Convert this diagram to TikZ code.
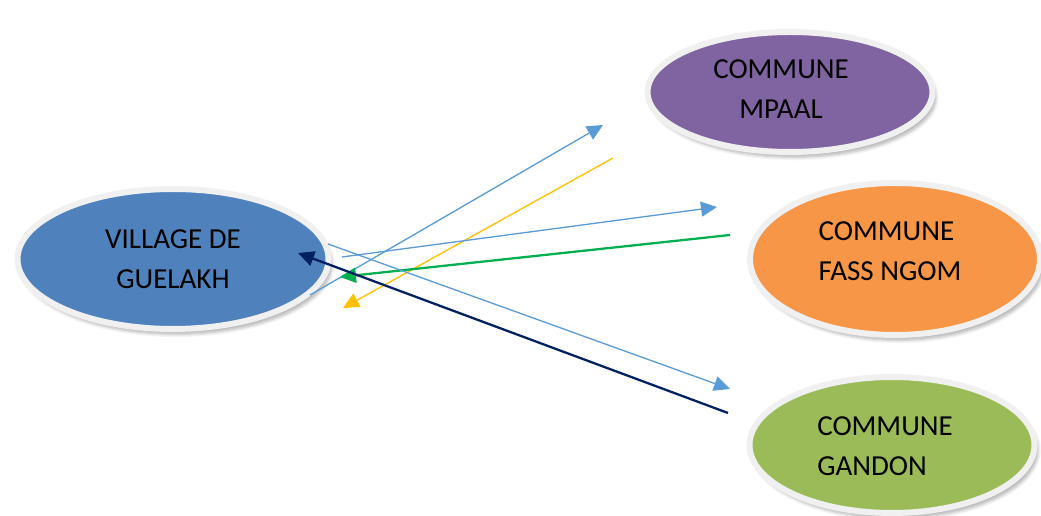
\documentclass[tikz,border=0pt]{standalone}
\usepackage{fontspec}
\setmainfont{Carlito}
\usetikzlibrary{shapes.geometric,arrows.meta,shadows.blur}
\definecolor{villagefill}{HTML}{4F81BD}
\definecolor{mpaalfill}{HTML}{8064A2}
\definecolor{fassfill}{HTML}{F79646}
\definecolor{gandonfill}{HTML}{9BBB59}
\definecolor{flowblue}{HTML}{5B9BD5}
\definecolor{flowyellow}{HTML}{FFC000}
\definecolor{flowgreen}{HTML}{00B050}
\definecolor{flownavy}{HTML}{002060}
\begin{document}
\begin{tikzpicture}[x=0.02cm,y=-0.02cm,
    place/.style={ellipse,draw=black!6,line width=3.4pt,inner sep=0pt,
      font=\fontsize{16.5}{22.8}\selectfont,
      blur shadow={shadow xshift=2pt,shadow yshift=-3pt,shadow blur steps=6,shadow opacity=30}},
    placename/.style={inner sep=0pt,font=\fontsize{16.5}{22.8}\selectfont},
    flow/.style={-{Triangle[length=0.32cm,width=0.3cm]},line width=0.75pt}]
      \useasboundingbox (0,0) rectangle (1041,516);
      \draw
        (173,259) node[place,fill=villagefill,align=center,minimum width=6.22cm,minimum height=2.8cm] (village){VILLAGE DE\\GUELAKH}
        (790,92) node[place,fill=mpaalfill,minimum width=5.7cm,minimum height=2.4cm] (mpaal){}
        (895,259) node[place,fill=fassfill,minimum width=5.8cm,minimum height=3.04cm] (fass){}
        (892,445) node[place,fill=gandonfill,minimum width=5.7cm,minimum height=2.72cm] (gandon){};
      \draw
        (781,89) node[placename,align=center] (mpaaltext){COMMUNE\\MPAAL}
        (890,251) node[placename,align=left] (fasstext){COMMUNE\\FASS NGOM}
        (885,446) node[placename,align=left] (gandontext){COMMUNE\\GANDON};
      \draw
        (310,295) coordinate (vm)
        (603,125) coordinate (mv)
        (613,158) coordinate (my)
        (343,308) coordinate (vy)
        (342,257) coordinate (vf)
        (717,207) coordinate (fv)
        (730,235) coordinate (fg)
        (340,277) coordinate (vg)
        (328,244) coordinate (vd)
        (730,389) coordinate (dv)
        (728,413) coordinate (dn)
        (298,253) coordinate (vn);
      \begin{scope}[flow]
        \draw[flowblue] (vm) to (mv);
        \draw[flowyellow] (my) to (vy);
        \draw[flowblue] (vf) to (fv);
        \draw[flowgreen,line width=1.3pt] (fg) to (vg);
        \draw[flowblue] (vd) to (dv);
        \draw[flownavy,line width=1.3pt] (dn) to (vn);
      \end{scope}
    \end{tikzpicture}
\end{document}
